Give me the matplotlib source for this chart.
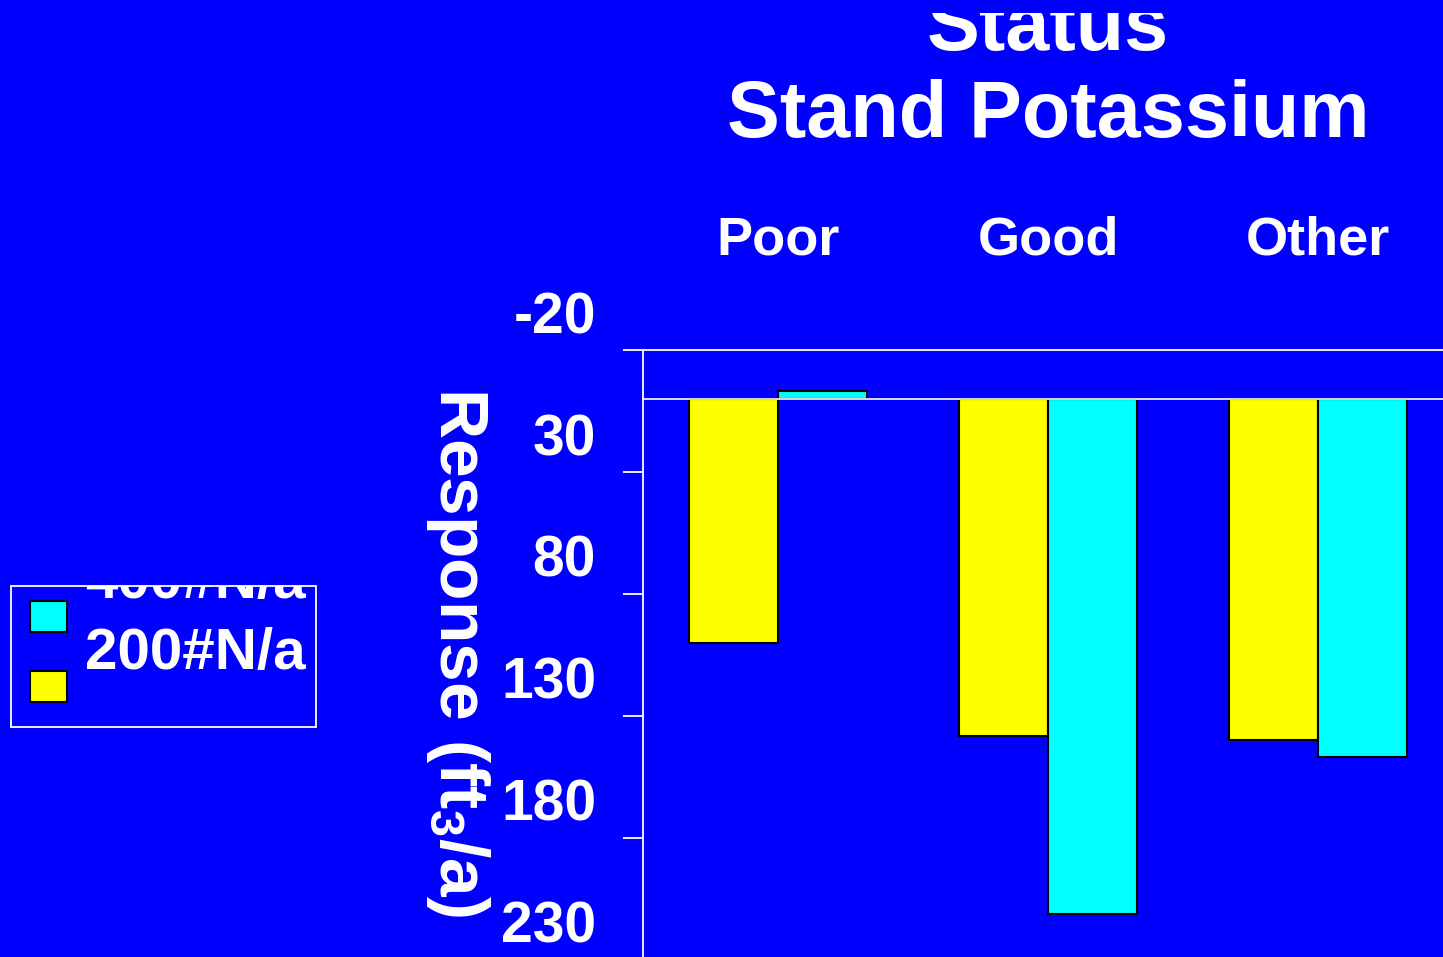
import matplotlib
matplotlib.use("Agg")
import matplotlib.pyplot as plt
import numpy as np
from matplotlib.patches import Rectangle
from matplotlib.transforms import ScaledTranslation, Bbox, TransformedBbox

# ---- data -------------------------------------------------------------
categories = ["Poor", "Good", "Other"]
series_labels = ["200#N/a", "400#N/a"]
n200 = [100, 138, 140]
n400 = [-3, 211, 147]
yticks = [-20, 30, 80, 130, 180, 230]
title_lines = ["Status", "Stand Potassium"]
ylabel = r"Response (ft$_{\mathbf{3}}$/a)"

# ---- style ------------------------------------------------------------
BLUE = "#0000FF"
YELLOW = "#FFFF00"
CYAN = "#00FFFF"
WHITE = "white"

plt.rcParams.update({
    "font.family": ["Liberation Sans", "DejaVu Sans"],
    "font.weight": "bold",
    "axes.titleweight": "bold",
    "axes.labelweight": "bold",
    "mathtext.fontset": "custom",
    "mathtext.rm": "Liberation Sans:bold",
    "mathtext.bf": "Liberation Sans:bold",
    "mathtext.it": "Liberation Sans:bold:italic",
})

W, H = 1443, 957
fig = plt.figure(figsize=(W / 100, H / 100), dpi=100, facecolor=BLUE)


def fx(px):
    return px / W


def fy(py):
    return 1 - py / H


# axes box in pixel terms (extends slightly past the canvas on right/bottom)
ax_l, ax_r, ax_t, ax_b = 643, 1453, 350, 960
ax = fig.add_axes([fx(ax_l), fy(ax_b), (ax_r - ax_l) / W, (ax_b - ax_t) / H])
ax.set_facecolor(BLUE)

x = np.arange(len(categories))
bw = 0.33
ax.bar(x - bw / 2, n200, bw, color=YELLOW, edgecolor="black",
       linewidth=1.5, zorder=2)
ax.bar(x + bw / 2, n400, bw, color=CYAN, edgecolor="black",
       linewidth=1.5, zorder=2)
ax.axhline(0, color=WHITE, lw=1.2, zorder=3)

ax.set_xlim(-0.5, len(categories) - 0.5)
ax.set_ylim(yticks[-1], yticks[0])

# spines
for side in ("bottom", "right"):
    ax.spines[side].set_visible(False)
for side in ("top", "left"):
    ax.spines[side].set_color(WHITE)
    ax.spines[side].set_linewidth(1.3)

# category labels along the top
ax.xaxis.tick_top()
ax.set_xticks(x, categories)
ax.tick_params(axis="x", length=0, labelsize=39, labelcolor=WHITE, pad=61)

# value axis, labels raised above their tick marks
ax.set_yticks(yticks, [str(v) for v in yticks])
ax.tick_params(axis="y", direction="out", length=14.4, width=1.3,
               color=WHITE, labelcolor=WHITE, labelsize=41, pad=19.4)
raise_lbl = ScaledTranslation(0, 0.38, fig.dpi_scale_trans)
for lab in ax.get_yticklabels():
    lab.set_transform(lab.get_transform() + raise_lbl)

ax.set_ylabel(ylabel, rotation=270, fontsize=50, fontweight="bold",
              color=WHITE, rotation_mode="default", ha="center", va="center")
ax.yaxis.set_label_coords(-0.228, 0.505)

# title, top line cut by the upper margin
title = ax.set_title("\n".join(title_lines), fontsize=57, fontweight="bold",
                     color=WHITE, y=1.322, va="bottom", pad=0)
title.set_clip_box(TransformedBbox(Bbox([[0, 0], [1, fy(13)]]),
                                   fig.transFigure))
title.set_clip_on(True)

# legend box
lx0, ly0, lx1, ly1 = 11, 586, 316, 727
frame = Rectangle((fx(lx0), fy(ly1)), fx(lx1) - fx(lx0), fy(ly0) - fy(ly1),
                  transform=fig.transFigure, fill=False,
                  edgecolor=WHITE, lw=1.3)
fig.add_artist(frame)
legend_clip = TransformedBbox(Bbox([[fx(lx0), fy(ly1)], [fx(lx1), fy(ly0)]]),
                              fig.transFigure)

entries = [(series_labels[1], CYAN), (series_labels[0], YELLOW)]
handle_tops = [601, 671]
text_baselines = [598, 669]
for (label, color), htop, tb in zip(entries, handle_tops, text_baselines):
    fig.add_artist(Rectangle((fx(30), fy(htop + 31)), fx(67) - fx(30),
                             fy(htop) - fy(htop + 31),
                             transform=fig.transFigure, facecolor=color,
                             edgecolor="black", lw=1.5))
    t = fig.text(fx(85), fy(tb), label, fontsize=42, color=WHITE,
                 ha="left", va="baseline")
    t.set_clip_box(legend_clip)
    t.set_clip_on(True)

fig.savefig("out.png", dpi=100, facecolor=BLUE)
